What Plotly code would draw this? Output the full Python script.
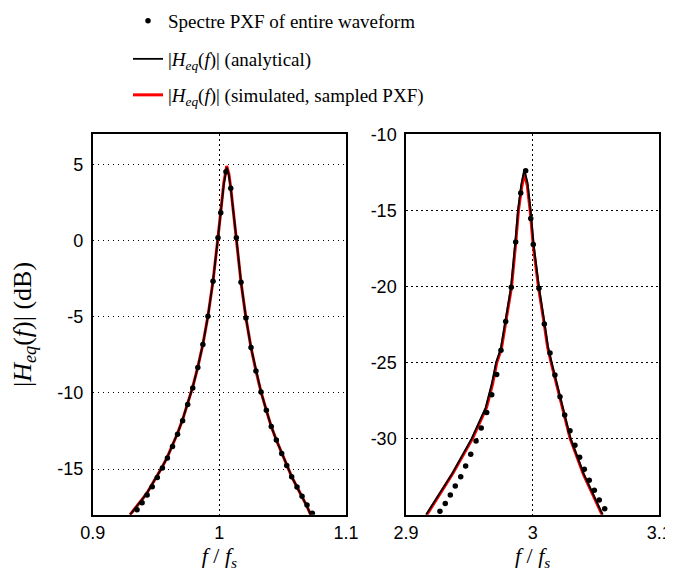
import plotly.graph_objects as go

# ---------------- data ----------------
# Left panel (around f/fs = 1)
dots1_x = [0.935, 0.939, 0.943, 0.947, 0.951, 0.955, 0.959, 0.963, 0.967, 0.971,
           0.975, 0.979, 0.983, 0.987, 0.991, 0.995, 0.9989, 1.0011, 1.0052, 1.009,
           1.0134, 1.0171, 1.021, 1.025, 1.0289, 1.0329, 1.0371, 1.041, 1.045, 1.0492,
           1.0532, 1.0571, 1.0613, 1.0653, 1.0692, 1.0734]
dots1_y = [-17.67, -17.21, -16.71, -16.16, -15.55, -14.93, -14.28, -13.51, -12.72, -11.82,
           -10.76, -9.67, -8.33, -6.82, -4.95, -2.65, 0.2, 1.84, 4.54, 3.45,
           0.2, -2.72, -5.07, -7.01, -8.55, -9.93, -11.14, -12.21, -13.09, -13.97,
           -14.76, -15.5, -16.18, -16.78, -17.37, -17.91]

ana1_x = [0.9295, 0.935, 0.939, 0.943, 0.947, 0.951, 0.955, 0.959, 0.963, 0.967,
          0.971, 0.975, 0.979, 0.983, 0.987, 0.991, 0.995, 0.9989, 1.0011, 1.0035,
          1.0058, 1.0075, 1.009, 1.0112, 1.0134, 1.0171, 1.021, 1.025, 1.0289, 1.0329,
          1.0371, 1.041, 1.045, 1.0492, 1.0532, 1.0571, 1.0613, 1.0653, 1.0692, 1.0721]
ana1_y = [-18.0, -17.45, -17.0, -16.55, -16.0, -15.45, -14.85, -14.2, -13.45, -12.65,
          -11.75, -10.7, -9.6, -8.3, -6.8, -4.95, -2.65, 0.2, 1.84, 3.7,
          4.82, 4.3, 3.45, 1.9, 0.2, -2.72, -5.07, -7.01, -8.55, -9.93,
          -11.14, -12.21, -13.09, -13.97, -14.76, -15.5, -16.18, -16.78, -17.45, -18.0]

sim1_x = ana1_x
sim1_y = [-18.0, -17.45, -17.0, -16.55, -16.0, -15.45, -14.85, -14.2, -13.45, -12.65,
          -11.75, -10.7, -9.6, -8.3, -6.8, -4.95, -2.65, 0.2, 1.9, 3.8,
          4.92, 4.4, 3.5, 1.9, 0.2, -2.72, -5.07, -7.01, -8.55, -9.93,
          -11.14, -12.21, -13.09, -13.97, -14.76, -15.5, -16.18, -16.78, -17.45, -18.0]

# Right panel (around f/fs = 3)
dots2_x = [2.9268, 2.931, 2.935, 2.9389, 2.9432, 2.9471, 2.9511, 2.9553, 2.9594, 2.9637,
           2.9677, 2.9716, 2.975, 2.9787, 2.9831, 2.9866, 2.9906, 2.9945, 2.9985, 3.0005,
           3.005, 3.0092, 3.0137, 3.0176, 3.0216, 3.0253, 3.0295, 3.0334, 3.0371, 3.0408,
           3.0447, 3.0487, 3.0526, 3.0569]
dots2_y = [-34.77, -34.26, -33.71, -33.12, -32.5, -31.8, -31.03, -30.15, -29.31, -28.29,
           -27.12, -25.78, -24.2, -22.31, -20.05, -17.08, -13.85, -12.4, -15.54, -17.25,
           -20.11, -22.46, -24.37, -25.82, -27.25, -28.44, -29.49, -30.44, -31.23, -32.02,
           -32.74, -33.4, -34.04, -34.61]

ana2_x = [2.9158, 2.926, 2.9361, 2.9518, 2.9629, 2.9677, 2.9711, 2.9748, 2.9829, 2.9863,
          2.9884, 2.991, 2.9934, 2.996, 2.9984, 3.0008, 3.005, 3.0095, 3.0122, 3.015,
          3.0242, 3.030, 3.0405, 3.048, 3.0553]
ana2_y = [-35.0, -33.7, -32.35, -30.0, -27.96, -26.4, -25.0, -24.1, -20.05, -17.08,
          -15.0, -13.3, -12.31, -13.2, -15.0, -17.25, -20.05, -22.46, -24.0, -25.0,
          -27.96, -30.0, -32.35, -33.7, -35.0]

sim2_x = [2.9165, 2.9268, 2.9368, 2.9525, 2.9636, 2.9684, 2.9717, 2.9753, 2.9833, 2.9867,
          2.9888, 2.9913, 2.9935, 2.9958, 2.998, 3.0004, 3.0046, 3.0091, 3.0118, 3.0146,
          3.0238, 3.0296, 3.0401, 3.0477, 3.0548]
sim2_y = [-35.0, -33.6, -32.3, -30.0, -27.96, -26.4, -25.0, -24.1, -20.05, -17.08,
          -15.0, -13.5, -12.57, -13.4, -15.0, -17.25, -20.05, -22.46, -24.0, -25.0,
          -27.96, -30.0, -32.35, -33.7, -35.0]

x1_ticks = [0.9, 1.0, 1.1]
x1_labels = ["0.9", "1", "1.1"]
y1_ticks = [5, 0, -5, -10, -15]
y1_labels = ["5", "0", "-5", "-10", "-15"]
x2_ticks = [2.9, 3.0, 3.1]
x2_labels = ["2.9", "3", "3.1"]
y2_ticks = [-10, -15, -20, -25, -30]
y2_labels = ["-10", "-15", "-20", "-25", "-30"]

name_dots = "Spectre PXF of entire waveform"
name_ana = "|<i>H</i><sub><i>eq</i></sub>(<i>f</i>)| (analytical)"
name_sim = "|<i>H</i><sub><i>eq</i></sub>(<i>f</i>)| (simulated, sampled PXF)"

# ---------------- figure ----------------
OFF = 8  # page body margin: figure is drawn 8 px right/down of the page corner
W, H = 700, 579 - 2 * OFF
serif = "Liberation Serif, Times New Roman, serif"
sans = "Liberation Sans, Arial, sans-serif"

fig = go.Figure()

def add_panel(xa, ya, dx, dy, ax, ay, sx, sy, show):
    fig.add_trace(go.Scatter(x=sx, y=sy, mode="lines", line=dict(color="#ff0000", width=3),
                             name=name_sim, showlegend=show, legend="legend3",
                             xaxis=xa, yaxis=ya))
    fig.add_trace(go.Scatter(x=ax, y=ay, mode="lines", line=dict(color="black", width=1.8),
                             name=name_ana, showlegend=show, legend="legend2",
                             xaxis=xa, yaxis=ya))
    fig.add_trace(go.Scatter(x=dx, y=dy, mode="markers", marker=dict(color="black", size=5.5),
                             name=name_dots, showlegend=show, legend="legend",
                             xaxis=xa, yaxis=ya))

add_panel("x", "y", dots1_x, dots1_y, ana1_x, ana1_y, sim1_x, sim1_y, True)
add_panel("x2", "y2", dots2_x, dots2_y, ana2_x, ana2_y, sim2_x, sim2_y, False)

def px_x(p):
    return (p - OFF) / W

def px_y(p):
    return 1 - (p - OFF) / H

x1_dom = [px_x(92.7), px_x(346)]
x2_dom = [px_x(406), px_x(659.3)]
y_dom = [px_y(514.7), px_y(134.3)]

axis_common = dict(showline=True, linecolor="black", linewidth=1.5, mirror=True,
                   showgrid=True, gridcolor="black", griddash="1.5px,3.5px", gridwidth=1.2,
                   zeroline=False, ticks="", automargin=False, ticklabeloverflow="allow",
                   tickfont=dict(family=sans, size=18, color="black"))

xtitle = dict(text="<i>f</i> / <i>f</i><sub><i>s</i></sub>",
              font=dict(family=serif, size=22, color="black"), standoff=0)

fig.update_layout(
    width=W, height=H,
    margin=dict(l=0, r=0, t=0, b=0, autoexpand=False),
    paper_bgcolor="white", plot_bgcolor="white",
    xaxis=dict(domain=x1_dom, range=[0.9, 1.1], tickvals=x1_ticks, ticktext=x1_labels,
               anchor="y", title=xtitle, ticklabelstandoff=1, **axis_common),
    yaxis=dict(domain=y_dom, range=[-18, 7], tickvals=y1_ticks, ticktext=y1_labels,
               anchor="x",
               title=dict(text="|<i>H</i><sub><i>eq</i></sub>(<i>f</i>)| (dB)",
                          font=dict(family=serif, size=26, color="black"), standoff=22),
               ticklabelstandoff=4, **axis_common),
    xaxis2=dict(domain=x2_dom, range=[2.9, 3.1], tickvals=x2_ticks, ticktext=x2_labels,
                anchor="y2", title=xtitle, ticklabelstandoff=1, **axis_common),
    yaxis2=dict(domain=y_dom, range=[-35, -10], tickvals=y2_ticks, ticktext=y2_labels,
                anchor="x2", ticklabelstandoff=4, **axis_common),
)

leg_common = dict(xref="paper", yref="paper", xanchor="left", yanchor="middle",
                  bgcolor="rgba(0,0,0,0)", borderwidth=0,
                  font=dict(family=serif, size=19, color="black"), itemwidth=30)
fig.update_layout(
    legend=dict(x=px_x(128), y=px_y(21), **leg_common),
    legend2=dict(x=px_x(128), y=px_y(59), **leg_common),
    legend3=dict(x=px_x(128), y=px_y(95), **leg_common),
)

fig.write_html("out.html")
